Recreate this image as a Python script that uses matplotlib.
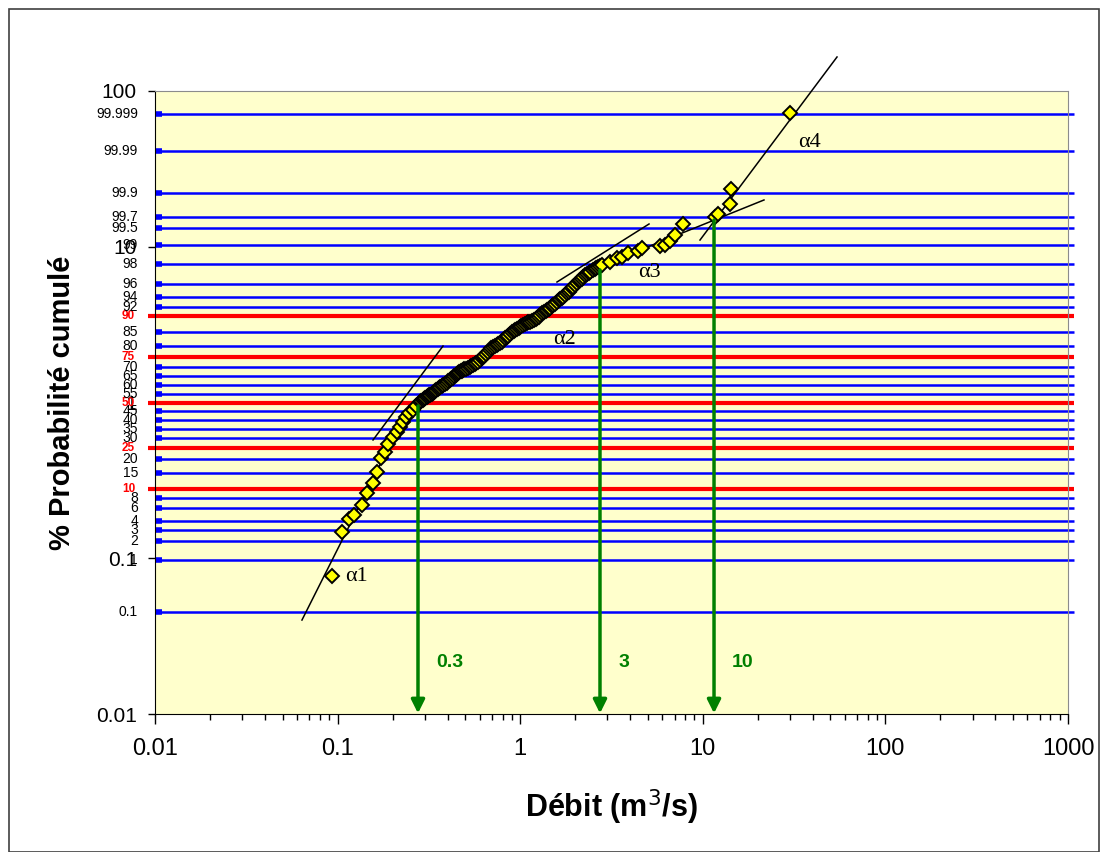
import matplotlib
matplotlib.use("Agg")
import matplotlib.pyplot as plt
import numpy as np
from statistics import NormalDist
from matplotlib.patches import Rectangle
from matplotlib.ticker import LogLocator, FixedLocator, FixedFormatter, NullFormatter

# ---------------- data ----------------
# discharges (m3/s) and Gauss reduced variable u of each observation
debit = [0.0932, 0.1057, 0.1154, 0.1230, 0.1360, 0.1449, 0.1563, 0.1644, 0.1729,
         0.1818, 0.1888, 0.2011, 0.2115, 0.2196, 0.2282, 0.2369, 0.2460, 0.2588,
         0.2688, 0.2827, 0.2936, 0.3010, 0.3127, 0.3206, 0.3331, 0.3415, 0.3547,
         0.3637, 0.3778, 0.3973, 0.4125, 0.4285, 0.4450, 0.4564, 0.4740, 0.4862,
         0.5050, 0.5310, 0.5514, 0.5727, 0.6022, 0.6255, 0.6496, 0.6832, 0.7096,
         0.7464, 0.7750, 0.8049, 0.8465, 0.8793, 0.9247, 0.9605, 0.9975, 1.036,
         1.089, 1.132, 1.190, 1.236, 1.284, 1.350, 1.402, 1.456, 1.512, 1.590,
         1.652, 1.716, 1.804, 1.874, 1.946, 2.047, 2.126, 2.208, 2.322, 2.412,
         2.568, 2.668, 2.805, 3.103, 3.389, 3.620, 3.894, 4.400, 4.645, 5.831,
         6.209, 6.612, 7.043, 7.791, 11.66, 12.11, 14.09, 14.27, 30.03]
u_gauss = [-2.565, -1.915, -1.722, -1.663, -1.515, -1.338, -1.190, -1.027, -0.820,
           -0.732, -0.614, -0.510, -0.436, -0.362, -0.288, -0.214, -0.155, -0.111,
           -0.052, 0.007, 0.037, 0.067, 0.096, 0.111, 0.140, 0.170, 0.200,
           0.229, 0.259, 0.288, 0.333, 0.362, 0.407, 0.436, 0.466, 0.480,
           0.495, 0.525, 0.554, 0.584, 0.628, 0.673, 0.717, 0.776, 0.821,
           0.850, 0.880, 0.924, 0.968, 1.013, 1.057, 1.087, 1.116, 1.146,
           1.175, 1.190, 1.220, 1.249, 1.294, 1.338, 1.368, 1.397, 1.441, 1.486,
           1.530, 1.560, 1.619, 1.663, 1.708, 1.767, 1.811, 1.855, 1.900, 1.929,
           1.974, 2.003, 2.033, 2.077, 2.136, 2.150, 2.210, 2.240, 2.284, 2.314,
           2.329, 2.388, 2.476, 2.639, 2.742, 2.787, 2.935, 3.157, 4.280]
# further observations in the dense central band
debit_band = [0.288, 0.297, 0.307, 0.316, 0.327, 0.337, 0.348, 0.359, 0.371, 0.387,
              0.404, 0.420, 0.436, 0.451, 0.465, 0.480, 0.495, 0.518, 0.541, 0.562,
              0.587, 0.614, 0.637, 0.666, 0.696, 0.728, 0.760, 0.790, 0.826, 0.862,
              0.902, 0.942, 0.979, 1.016, 1.062, 1.110, 1.161, 1.213, 1.260, 1.317,
              1.376, 1.429, 1.484, 1.551, 1.621, 1.684, 1.760, 1.839, 1.910, 1.996,
              2.086, 2.167, 2.265, 2.367, 2.490, 2.617, 2.737]
u_band = [0.026, 0.049, 0.080, 0.106, 0.122, 0.158, 0.183, 0.216, 0.242, 0.270,
          0.313, 0.345, 0.386, 0.424, 0.452, 0.470, 0.489, 0.508, 0.541, 0.570,
          0.603, 0.652, 0.694, 0.748, 0.800, 0.838, 0.866, 0.900, 0.948, 0.990,
          1.036, 1.074, 1.103, 1.130, 1.160, 1.184, 1.206, 1.236, 1.270, 1.318,
          1.352, 1.383, 1.420, 1.463, 1.508, 1.546, 1.590, 1.640, 1.686, 1.738,
          1.790, 1.833, 1.878, 1.915, 1.952, 1.988, 2.018]

# probability grid (%)
prob_levels = [0.1, 1, 2, 3, 4, 6, 8, 10, 15, 20, 25, 30, 35, 40, 45, 50, 55, 60,
               65, 70, 75, 80, 85, 90, 92, 94, 96, 98, 99, 99.5, 99.7, 99.9,
               99.99, 99.999]
red_levels = [10, 25, 50, 75, 90]

# fitted segments (debit start/end, u start/end)
fit_q = [[0.0638, 0.2196], [0.1563, 0.3778], [1.590, 5.076], [4.825, 21.63], [9.654, 54.33]]
fit_u = [[-3.216, -0.333], [-0.554, 0.835], [1.781, 2.639], [2.284, 2.994], [2.402, 5.108]]

# slope labels
alpha_text = ["α1", "α2", "α3", "α4"]
alpha_q = [0.1098, 1.512, 4.418, 33.22]
alpha_u = [-2.565, 0.924, 1.929, 3.851]

# break discharges read on the axis
break_q = [0.2756, 2.735, 11.52]
break_u = [-0.052, 1.959, 2.698]
break_text = ["0.3", "3", "10"]

x_ticks = [0.01, 0.1, 1, 10, 100, 1000]
x_ticklabels = ["0.01", "0.1", "1", "10", "100", "1000"]
y_ticks = [0.01, 0.1, 1, 10, 100]
y_ticklabels = ["0.01", "0.1", "1", "10", "100"]

# ---------------- figure ----------------
W, H = 1109, 852
fig = plt.figure(figsize=(W / 100, H / 100), dpi=100)
plt.rcParams['font.family'] = ['Liberation Sans', 'DejaVu Sans']
fig.patch.set_facecolor('white')
fig.patches.append(Rectangle((9 / W, 0.0), (1099 - 9) / W, (H - 9) / H,
                             transform=fig.transFigure, fill=False,
                             edgecolor='#404040', lw=1.2))

PXD = 182.6  # pixels per decade on x
ax = fig.add_axes([155 / W, 1 - 714 / H, (1068 - 155) / W, (714 - 91) / H])
ax.set_facecolor('#FFFFCC')
ax.set_xscale('log')
ax.set_yscale('log')
ax.set_xlim(0.01, 1000)
ax.set_ylim(0.01, 100)

nd = NormalDist()
x_left = 10 ** (-2 - 7 / PXD)
x_right = 10 ** (3 + 6 / PXD)
for p in prob_levels:
    yv = np.exp(nd.inv_cdf(p / 100.0))
    if p in red_levels:
        ax.plot([x_left, x_right], [yv, yv], color='#FF0000', lw=3.0,
                clip_on=False, zorder=2, solid_capstyle='butt')
        ax.text(10 ** (-2 - 20 / PXD), yv, f"{p:g}", color='#FF0000', fontsize=8.5,
                fontweight='bold', ha='right', va='center', zorder=3)
    else:
        ax.plot([0.01, x_right], [yv, yv], color='#0000FF', lw=1.8,
                clip_on=False, zorder=2, solid_capstyle='butt')
        ax.plot([0.01, 10 ** (-2 + 7 / PXD)], [yv, yv], color='#0000FF', lw=4,
                clip_on=False, zorder=2, solid_capstyle='butt')
        ax.text(10 ** (-2 - 17 / PXD), yv, f"{p:g}", color='black', fontsize=10,
                ha='right', va='center', zorder=3)

# fitted lines
for qs, us in zip(fit_q, fit_u):
    ax.plot(qs, np.exp(us), color='black', lw=1.1, zorder=4, clip_on=False)

# observations
all_q = list(debit) + list(debit_band)
all_u = list(u_gauss) + list(u_band)
order = np.argsort(all_q)
ax.plot(np.array(all_q)[order], np.exp(np.array(all_u)[order]), linestyle='none',
        marker='D', markersize=7, markerfacecolor='#FFFF00', markeredgecolor='black',
        markeredgewidth=1.4, zorder=5)

for t, q, uu in zip(alpha_text, alpha_q, alpha_u):
    ax.text(q, np.exp(uu), t, fontsize=16, family='Liberation Serif', ha='left',
            va='center', zorder=6)

# green arrows
for q, uu, t in zip(break_q, break_u, break_text):
    ax.annotate('', xy=(q, 0.0101), xytext=(q, np.exp(uu)),
                arrowprops=dict(arrowstyle='-|>', color='#008000', lw=2.5,
                                mutation_scale=20, shrinkA=0, shrinkB=0),
                zorder=6)
    ax.annotate(t, xy=(q, 0.0215), xytext=(13, 0), textcoords='offset points',
                color='#008000', fontsize=14, fontweight='bold', ha='left',
                va='center', zorder=6)

# axes styling
for s in ['top', 'right']:
    ax.spines[s].set_color('#8c8c8c')
for s in ['left', 'bottom']:
    ax.spines[s].set_color('black')
ax.xaxis.set_major_locator(FixedLocator(x_ticks))
ax.xaxis.set_major_formatter(FixedFormatter(x_ticklabels))
ax.xaxis.set_minor_locator(LogLocator(base=10, subs=np.arange(2, 10)))
ax.xaxis.set_minor_formatter(NullFormatter())
ax.yaxis.set_major_locator(FixedLocator(y_ticks))
ax.yaxis.set_major_formatter(FixedFormatter(y_ticklabels))
ax.yaxis.set_minor_locator(FixedLocator([]))
ax.tick_params(axis='x', which='major', direction='out', length=7, width=1,
               labelsize=17, pad=10)
ax.tick_params(axis='x', which='minor', direction='out', length=4, width=1)
ax.tick_params(axis='y', which='major', direction='out', length=5, width=1,
               labelsize=15, pad=8)

ax.set_xlabel('Débit (m$^3$/s)', fontsize=22, fontweight='bold', labelpad=20)
ax.set_ylabel('% Probabilité cumulé', fontsize=21, fontweight='bold')
ax.yaxis.set_label_coords(-(155 - 76) / (1068 - 155), 0.5)

fig.savefig('out.png', dpi=100)
